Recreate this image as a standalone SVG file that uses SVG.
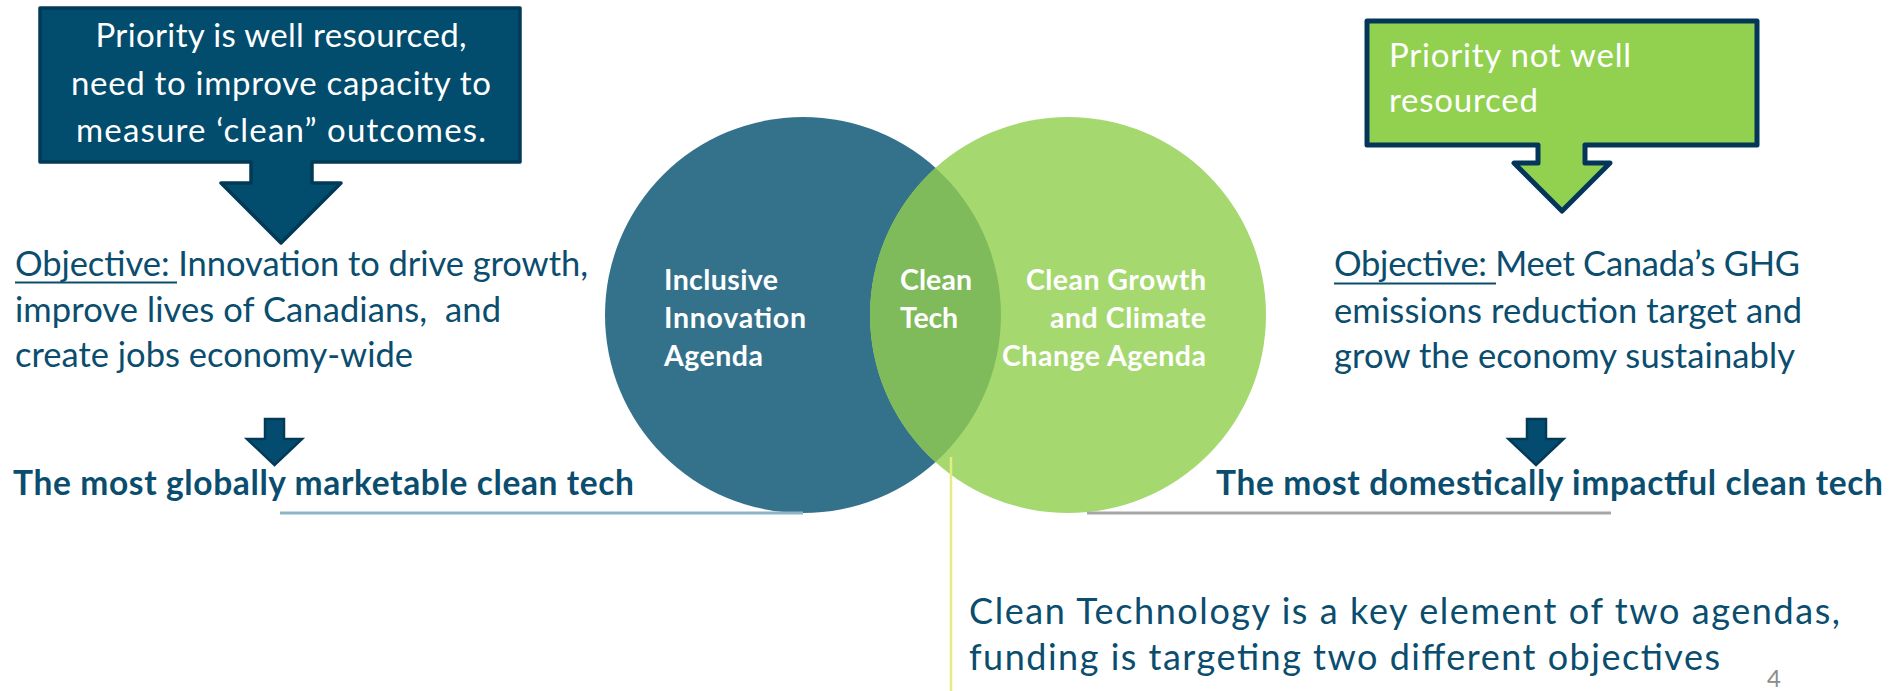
<svg xmlns="http://www.w3.org/2000/svg" width="1889" height="691" viewBox="0 0 1889 691">
  <style>
    .body { font-family: Lato, "Open Sans", "Liberation Sans", sans-serif; font-size: 34.5px; fill: #0a4d6e; }
    .bold { font-family: Lato, "Open Sans", "Liberation Sans", sans-serif; font-size: 33.5px; font-weight: 700; fill: #0a4d6e; }
    .boxtext { font-family: Lato, "Open Sans", "Liberation Sans", sans-serif; font-size: 33px; fill: #ffffff; }
    .label { font-family: Lato, "Open Sans", "Liberation Sans", sans-serif; font-size: 28.5px; font-weight: 700; fill: #ffffff; }
    .small-arrow { fill: #044c6f; stroke: #033a57; stroke-width: 2.5; stroke-linejoin: miter; }
  </style>

  <rect width="1889" height="691" fill="#ffffff"/>

  <!-- Venn diagram: two agendas and their overlap -->
  <g id="venn">
    <g id="node-inclusive-innovation">
      <circle cx="803" cy="315" r="198" fill="#34728c"/>
      <text class="label" x="664" y="290" textLength="114">Inclusive</text>
      <text class="label" x="664" y="328" textLength="142">Innovation</text>
      <text class="label" x="664" y="366" textLength="99">Agenda</text>
    </g>
    <g id="node-clean-growth">
      <circle cx="1068" cy="315" r="198" fill="#a6d870"/>
      <text class="label" x="1206" y="290" text-anchor="end" textLength="180">Clean Growth</text>
      <text class="label" x="1206" y="328" text-anchor="end" textLength="156">and Climate</text>
      <text class="label" x="1206" y="366" text-anchor="end" textLength="204">Change Agenda</text>
    </g>
    <g id="node-clean-tech">
      <path d="M935.5,167.9 A198,198 0 0 1 935.5,462.1 A198,198 0 0 1 935.5,167.9 Z" fill="#7fbb5a"/>
      <text class="label" x="900" y="290" textLength="72">Clean</text>
      <text class="label" x="900" y="328" textLength="58">Tech</text>
    </g>
  </g>

  <!-- Callout: well resourced priority -->
  <g id="callout-left">
    <path d="M40,8 H520 V162 H312 V183 H341 L281,243 L221,183 H251 V162 H40 Z" fill="#024c6e" stroke="#023a56" stroke-width="3.5" stroke-linejoin="round"/>
    <text class="boxtext" x="281" y="47" text-anchor="middle" textLength="371">Priority is well resourced,</text>
    <text class="boxtext" x="281" y="95" text-anchor="middle" textLength="420">need to improve capacity to</text>
    <text class="boxtext" x="281" y="142" text-anchor="middle" textLength="410">measure ‘clean” outcomes.</text>
  </g>

  <!-- Callout: priority not well resourced -->
  <g id="callout-right">
    <path d="M1367,21 H1757 V145 H1585 V163 H1610 L1562,211 L1514,163 H1538 V145 H1367 Z" fill="#92d050" stroke="#04365a" stroke-width="5" stroke-linejoin="round"/>
    <text class="boxtext" x="1389" y="67" style="font-size:33px" textLength="242">Priority not well</text>
    <text class="boxtext" x="1389" y="112" style="font-size:33px" textLength="149">resourced</text>
  </g>

  <!-- Objectives -->
  <g id="objective-left">
    <text class="body" x="15" y="276" textLength="573">Objective: Innovation to drive growth,</text>
    <text class="body" x="15" y="322" textLength="486" xml:space="preserve">improve lives of Canadians,  and</text>
    <text class="body" x="15" y="367" textLength="398">create jobs economy-wide</text>
    <line x1="15" y1="282.5" x2="177" y2="282.5" stroke="#0a4d6e" stroke-width="2"/>
  </g>
  <g id="objective-right">
    <text class="body" x="1334" y="276" textLength="466">Objective: Meet Canada’s GHG</text>
    <text class="body" x="1334" y="323" textLength="468">emissions reduction target and</text>
    <text class="body" x="1334" y="368" textLength="461">grow the economy sustainably</text>
    <line x1="1334" y1="283.5" x2="1496" y2="283.5" stroke="#0a4d6e" stroke-width="2"/>
  </g>

  <!-- Outcomes -->
  <g id="result-left">
    <text class="bold" x="13" y="495" textLength="621">The most globally marketable clean tech</text>
  </g>
  <g id="result-right">
    <text class="bold" x="1216" y="495" textLength="667">The most domestically impactful clean tech</text>
  </g>

  <!-- Connectors: down arrows, rules and the pointer line -->
  <g id="connectors">
    <path class="small-arrow" d="M265,419 H284 V439 H302 L274.5,465 L247,439 H265 Z"/>
    <path class="small-arrow" d="M1527,419 H1546 V439 H1563.5 L1536,465 L1508.5,439 H1527 Z"/>
    <line x1="280" y1="513" x2="803" y2="513" stroke="#8db3c7" stroke-width="3"/>
    <line x1="1087" y1="513" x2="1611" y2="513" stroke="#a4a7aa" stroke-width="3"/>
    <line x1="951" y1="457" x2="951" y2="691" stroke="#e4ec84" stroke-width="2.5"/>
  </g>

  <!-- Summary statement -->
  <g id="summary">
    <text class="body" x="969" y="624" style="font-size:36px" textLength="871">Clean Technology is a key element of two agendas,</text>
    <text class="body" x="969" y="670" style="font-size:36px" textLength="751">funding is targeting two different objectives</text>
  </g>

  <text id="page-number" x="1767" y="687" style="font-family: Lato, 'Liberation Sans', sans-serif; font-size: 24px; fill: #8c8c8c;">4</text>
</svg>
